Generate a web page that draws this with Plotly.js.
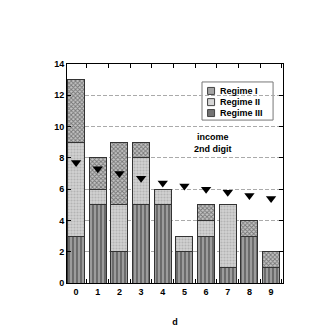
<!DOCTYPE html>
<html><head><meta charset="utf-8">
<script src="https://cdn.plot.ly/plotly-3.0.1.min.js"></script>
<style>html,body{margin:0;padding:0;background:#fff}#c{width:327px;height:327px}</style>
</head><body><div id="c"></div>
<script>
const digits = ['0','1','2','3','4','5','6','7','8','9'];
const regime3 = [3,5,2,5,5,2,3,1,3,1];
const regime2 = [6,1,3,3,1,1,1,4,0,0];
const regime1 = [4,2,4,1,0,0,1,0,1,1];
const expected = [7.7,7.3,7.0,6.7,6.4,6.2,6.0,5.8,5.6,5.4];
const yTicks = [0,2,4,6,8,10,12,14];
const legendNames = ['Regime I','Regime II','Regime III'];

const line = {color:'#333', width:1};
const pat1 = {shape:'x', bgcolor:'#c4c4c4', fgcolor:'#777', size:3, solidity:0.5};
const pat2 = {shape:'.', bgcolor:'#d2d2d2', fgcolor:'#b4b4b4', size:3, solidity:0.4};
const pat3 = {shape:'|', bgcolor:'#9c9c9c', fgcolor:'#666', size:4, solidity:0.45};
const traces = [
  {type:'bar', name:'Regime III', x:digits, y:regime3, width:0.78, showlegend:false,
   marker:{color:'#8e8e8e', line:line, pattern:pat3}},
  {type:'bar', name:'Regime II', x:digits, y:regime2, width:0.78, showlegend:false,
   marker:{color:'#cfcfcf', line:line, pattern:pat2}},
  {type:'bar', name:'Regime I', x:digits, y:regime1, width:0.78, showlegend:false,
   marker:{color:'#a8a8a8', line:line, pattern:pat1}},
  {type:'scatter', mode:'markers', x:digits, y:expected, showlegend:false,
   marker:{symbol:'triangle-down', color:'#000', size:9}},
  // legend swatches (in plot-fraction coordinates)
  {type:'scatter', mode:'markers', xaxis:'x2', yaxis:'y2', showlegend:false,
   x:[0.667,0.667,0.667], y:[0.877,0.826,0.776],
   marker:{symbol:'square', size:7, color:['#a4a4a4','#d6d6d6','#737373'], line:{color:'#444', width:1}}}
];
const f = {family:'Liberation Sans, Arial, sans-serif', size:9, color:'#000', weight:'bold'};
const legendAnn = legendNames.map((t,i)=>({xref:'paper', yref:'paper', x:0.699, y:[0.877,0.826,0.776][i],
   xanchor:'left', yanchor:'middle', text:t, showarrow:false, font:f}));
const layout = {
  width:327, height:327, margin:{l:67, r:44, t:64, b:44},
  paper_bgcolor:'#fff', plot_bgcolor:'#fff',
  barmode:'stack', bargap:0.22,
  font:f,
  showlegend:false,
  xaxis:{type:'category', range:[-0.42,9.55], showline:true, linecolor:'#000', linewidth:1, mirror:'ticks',
         ticks:'inside', ticklen:4, tickson:'boundaries', tickcolor:'#000', showgrid:false,
         tickfont:f, title:{text:'d', font:f, standoff:24}},
  yaxis:{range:[0,14], tickvals:yTicks, showline:true, linecolor:'#000', linewidth:1, mirror:'ticks',
         ticks:'inside', ticklen:4, tickcolor:'#000', tickfont:f,
         showgrid:true, gridcolor:'#aaa', griddash:'4px,2px', gridwidth:1, zeroline:false},
  xaxis2:{overlaying:'x', anchor:'y2', range:[0,1], visible:false, fixedrange:true},
  yaxis2:{overlaying:'y', anchor:'x2', range:[0,1], visible:false, fixedrange:true},
  shapes:[{type:'rect', xref:'paper', yref:'paper', x0:0.625, x1:0.954, y0:0.744, y1:0.918,
           line:{color:'#777', width:1}, fillcolor:'#fff', layer:'below'}],
  annotations:[{xref:'paper', yref:'paper', x:0.676, y:0.639, xanchor:'center', yanchor:'middle',
                text:'income<br>2nd digit', showarrow:false, font:f}].concat(legendAnn)
};
Plotly.newPlot('c', traces, layout, {displayModeBar:false, staticPlot:true});
</script></body></html>
